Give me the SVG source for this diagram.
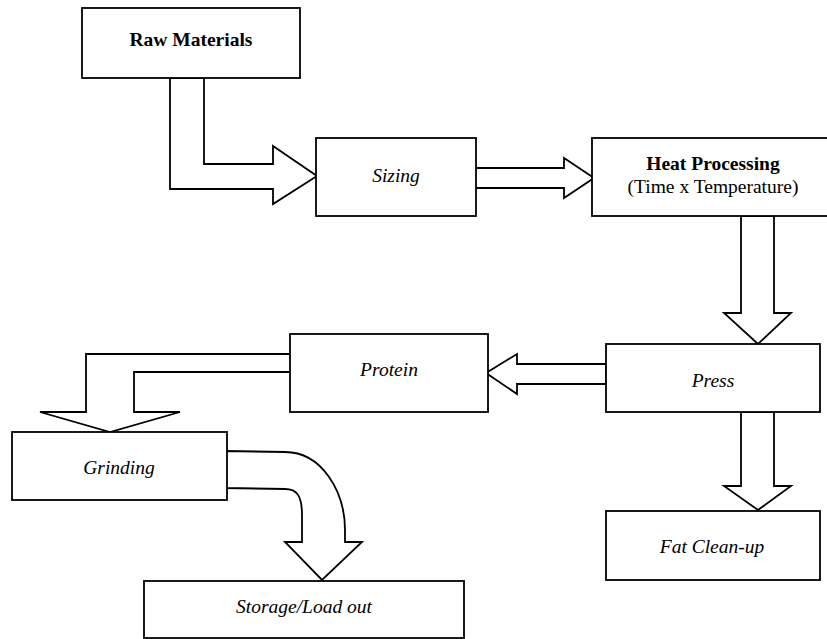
<svg xmlns="http://www.w3.org/2000/svg" width="827" height="639" viewBox="0 0 827 639">
<style>
.box{fill:#fff;stroke:#000;stroke-width:1.8}
.arr{fill:#fff;stroke:#000;stroke-width:1.8;stroke-linejoin:miter}
text{font-family:"Liberation Serif","Times New Roman",serif;font-size:19.5px;fill:#000;text-anchor:middle}
.b{font-weight:bold}
.i{font-style:italic}
</style>
<rect width="827" height="639" fill="#fff"/>
<g id="connectors">
<path class="arr" d="M170,78 L204,78 L204,164 L273,164 L273,146 L317,176 L273,204 L273,189 L170,189 Z"/>
<path class="arr" d="M474,168 L564,168 L564,158 L594,178 L564,198 L564,188 L474,188 Z"/>
<path class="arr" d="M741,216 L741,313 L724,313 L758,344 L791,313 L774,313 L774,216 Z"/>
<path class="arr" d="M741,412 L741,486 L724,486 L758,510 L791,486 L774,486 L774,412 Z"/>
<path class="arr" d="M606,364 L517,364 L517,354 L486,373 L517,394 L517,384 L606,384 Z"/>
<path class="arr" d="M292,354 L86,354 L86,412 L40,412 L110,432 L180,412 L134,412 L134,372 L292,372 Z"/>
<path class="arr" d="M224,451 L285,452 C322,452 345,492 345,530 L345,542 L362,542 L322,580 L285,542 L302,542 L302,515 C302,496 297,489 285,489 L224,488 Z"/>
</g>
<g id="raw-materials">
<rect class="box" x="82" y="8" width="218" height="70"/>
<text class="b" x="191" y="46">Raw Materials</text>
</g>
<g id="sizing">
<rect class="box" x="316" y="138" width="160" height="78"/>
<text class="i" x="396" y="182">Sizing</text>
</g>
<g id="heat-processing">
<rect class="box" x="592" y="138" width="250" height="78"/>
<text class="b" x="713" y="170">Heat Processing</text>
<text x="713" y="193">(Time x Temperature)</text>
</g>
<g id="press">
<rect class="box" x="606" y="344" width="214" height="68"/>
<text class="i" x="713" y="387">Press</text>
</g>
<g id="protein">
<rect class="box" x="290" y="334" width="198" height="78"/>
<text class="i" x="389" y="376">Protein</text>
</g>
<g id="fat-clean-up">
<rect class="box" x="606" y="511" width="214" height="69"/>
<text class="i" x="712" y="553">Fat Clean-up</text>
</g>
<g id="grinding">
<rect class="box" x="12" y="432" width="215" height="68"/>
<text class="i" x="119" y="474">Grinding</text>
</g>
<g id="storage-load-out">
<rect class="box" x="144" y="581" width="320" height="57"/>
<text class="i" x="304" y="613">Storage/Load out</text>
</g>
</svg>
